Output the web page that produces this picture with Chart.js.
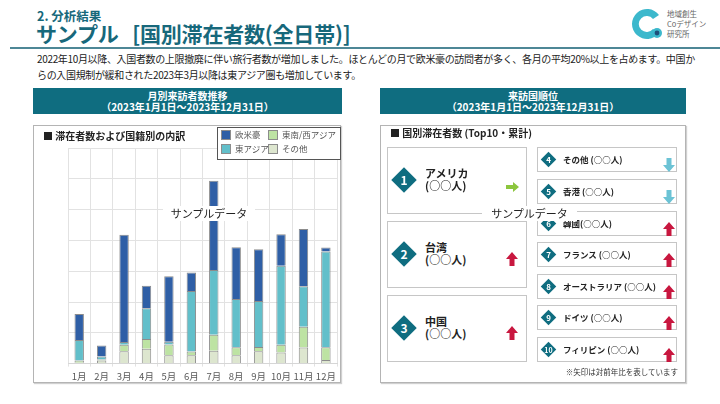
<!DOCTYPE html>
<html lang="ja">
<head>
<meta charset="utf-8">
<script src="https://cdn.jsdelivr.net/npm/chart.js@4.4.1/dist/chart.umd.min.js"></script>
<style>
    * { box-sizing: border-box; }
    body { margin: 0; width: 720px; height: 404px; position: relative; overflow: hidden; background: #fff;
        font-family: "Noto Sans CJK JP", "Noto Sans", sans-serif; color: #222; }
    .abs { position: absolute; }
    .teal { color: #17687b; }
    .hdr { position: absolute; top: 88px; height: 26px; background: #0f6d80; color: #fff; font-weight: bold;
        font-size: 10px; line-height: 11.5px; text-align: center; padding-top: 1.5px; }
    .panel { position: absolute; top: 125px; height: 258px; border: 1px solid #b4b4b4; box-shadow: 1px 1px 1px #d0d0d0; }
    .bigbox { position: absolute; left: 387px; width: 140px; height: 67px; border: 1.5px solid #c6c6c6; background: #fff; }
    .smallbox { position: absolute; left: 537px; width: 140px; height: 25px; border: 1.5px solid #c6c6c6; background: #fff; }
    .dia { position: absolute; background: #0f6d80; transform: rotate(45deg); }
    .num { position: absolute; color: #fff; font-weight: bold; text-align: center; }
    .bigname { position: absolute; left: 425px; font-size: 11px; font-weight: bold; line-height: 12px; color: #222; }
    .smallname { position: absolute; left: 563px; font-size: 8.5px; font-weight: bold; color: #222; white-space: nowrap; }
    .leg { position: absolute; font-size: 8.5px; color: #555; white-space: nowrap; }
    .sw { position: absolute; width: 10px; height: 10px; border: 1px solid #8c8c8c; }
    .wm { position: absolute; background: #fff; font-size: 11px; text-align: center; height: 15px; line-height: 15px; }
</style>
</head>
<body>
<div class="abs teal" style="left:37px;top:6px;font-size:12.5px;font-weight:bold;">2. 分析結果</div>
<div class="abs teal" style="left:36px;top:18px;font-size:21px;font-weight:bold;letter-spacing:-0.2px;white-space:nowrap;">サンプル&nbsp;&nbsp;&nbsp;[国別滞在者数(全日帯)]</div>
<div class="abs" style="left:10px;top:47px;width:710px;height:2px;background:#4d8796;"></div>

<svg class="abs" style="left:629px;top:6px" width="36" height="36" viewBox="0 0 36 36">
    <path d="M30 9 A15 15 0 1 0 30 27 L24 23 A8 8 0 1 1 24 13 Z" fill="#3cb8cc"/>
    <circle cx="14" cy="16" r="1.6" fill="#fff"/>
    <circle cx="19" cy="14" r="1.6" fill="#fff"/>
    <circle cx="28" cy="27" r="5" fill="#3cb8cc"/>
    <circle cx="28" cy="27" r="2.4" fill="#1f4f7a"/>
</svg>
<div class="abs" style="left:667px;top:9px;font-size:7.5px;line-height:10px;color:#666;">地域創生<br>Coデザイン<br>研究所</div>

<div class="abs" style="left:37px;top:51px;font-size:10px;line-height:15.5px;white-space:nowrap;letter-spacing:-0.34px;">2022年10月以降、入国者数の上限撤廃に伴い旅行者数が増加しました。ほとんどの月で欧米豪の訪問者が多く、各月の平均20%以上を占めます。中国か<br>らの入国規制が緩和された2023年3月以降は東アジア圏も増加しています。</div>

<div class="hdr" style="left:33px;width:309px;">月別来訪者数推移<br>（2023年1月1日～2023年12月31日）</div>
<div class="hdr" style="left:380px;width:306px;">来訪国順位<br>（2023年1月1日～2023年12月31日）</div>

<div class="panel" style="left:33px;width:308px;"></div>
<div class="panel" style="left:380px;width:306px;"></div>

<div class="abs" style="left:34px;top:126px;width:306px;height:260px;"><canvas id="visitorChart"></canvas></div>

<div class="abs" style="left:43px;top:128px;font-size:10px;font-weight:bold;">■ 滞在者数および国籍別の内訳</div>
<div class="abs" style="left:217px;top:127px;width:124px;height:33px;border:1px solid #555;background:#fff;"></div>
<div id="legendBox"></div>

<div class="abs" style="left:390px;top:125px;font-size:10px;font-weight:bold;">■ 国別滞在者数 (Top10・累計)</div>
<div id="ranking"></div>
<div class="abs" style="left:540px;top:366px;width:138px;text-align:right;font-size:7.5px;color:#333;">※矢印は対前年比を表しています</div>

<div class="wm" style="left:163px;top:206px;width:92px;">サンプルデータ</div>
<div class="wm" style="left:482px;top:206px;width:95px;">サンプルデータ</div>

<script>
    const months = ['1月', '2月', '3月', '4月', '5月', '6月', '7月', '8月', '9月', '10月', '11月', '12月'];
    const otherVals = [0.3, 1.0, 4.0, 4.8, 2.7, 2.7, 4.2, 2.7, 4.0, 3.6, 5.2, 1.2];
    const seWestAsia = [0.7, 0.3, 2.1, 3.2, 3.5, 1.2, 5.2, 2.6, 1.4, 2.5, 6.8, 4.1];
    const eastAsia = [6.7, 1.0, 0.9, 10.0, 0.9, 19.7, 21.0, 15.7, 14.9, 25.7, 13.1, 31.1];
    const westerns = [8.4, 3.6, 34.8, 7.3, 21.3, 6.0, 29.0, 16.8, 16.8, 10.2, 18.6, 1.3];
    const seriesNames = ['欧米豪', '東南/西アジア', '東アジア', 'その他'];

    const rankNames = ['アメリカ', '台湾', '中国', 'その他 (○○人)', '香港 (○○人)', '韓國(○○人)', 'フランス (○○人)', 'オーストラリア (○○人)', 'ドイツ (○○人)', 'フィリピン (○○人)'];
    const rankTrend = ['flat', 'up', 'up', 'down', 'down', 'up', 'up', 'up', 'up', 'up'];

    const colors = { '欧米豪': '#2f5fa6', '東南/西アジア': '#bde3a3', '東アジア': '#62bfca', 'その他': '#dde6cf' };

    // legend (2 columns, drawn in html)
    const legendPos = [[221, 130], [268, 130], [221, 144], [268, 144]];
    let legendHtml = '';
    seriesNames.forEach((name, i) => {
        const [x, y] = legendPos[i];
        legendHtml += `<div class="sw" style="left:${x}px;top:${y}px;background:${colors[name]}"></div>`;
        legendHtml += `<div class="leg" style="left:${x + 14}px;top:${y - 2}px">${name}</div>`;
    });
    document.getElementById('legendBox').innerHTML = legendHtml;

    function arrowSvg(kind) {
        if (kind === 'up') {
            return '<svg width="12" height="14" viewBox="0 0 12 14"><polygon points="0,7 6,0 12,7 8.5,7 8.5,14 3.5,14 3.5,7" fill="#c8173f"/></svg>';
        }
        if (kind === 'down') {
            return '<svg width="12" height="14" viewBox="0 0 12 14"><polygon points="3.5,0 8.5,0 8.5,7 12,7 6,14 0,7 3.5,7" fill="#6cc3d5"/></svg>';
        }
        return '<svg width="13" height="10" viewBox="0 0 13 10"><polygon points="0,3 7,3 7,0 13,5 7,10 7,7 0,7" fill="#8cc63e"/></svg>';
    }

    // ranking boxes
    const bigTops = [147, 221, 295];
    const smallTops = [147, 179, 211, 242, 274, 305, 337];
    let rankHtml = '';
    rankNames.forEach((name, i) => {
        if (i < 3) {
            const top = bigTops[i];
            const cy = top + 33;
            rankHtml += `<div class="bigbox" style="top:${top}px"></div>`;
            rankHtml += `<div class="dia" style="left:${404 - 9}px;top:${cy - 9}px;width:18px;height:18px"></div>`;
            rankHtml += `<div class="num" style="left:394px;top:${cy - 9}px;width:20px;font-size:12px;line-height:18px">${i + 1}</div>`;
            rankHtml += `<div class="bigname" style="top:${cy - 13}px">${name}<br>(○○人)</div>`;
            rankHtml += `<div class="abs" style="left:506px;top:${cy - 7}px">${arrowSvg(rankTrend[i])}</div>`;
        } else {
            const top = smallTops[i - 3];
            const cy = top + 12.5;
            rankHtml += `<div class="smallbox" style="top:${top}px"></div>`;
            rankHtml += `<div class="dia" style="left:${548.5 - 5.5}px;top:${cy - 5.5}px;width:11px;height:11px"></div>`;
            rankHtml += `<div class="num" style="left:538.5px;top:${cy - 6}px;width:20px;font-size:${i === 9 ? 7 : 8}px;line-height:12px">${i + 1}</div>`;
            rankHtml += `<div class="smallname" style="top:${cy - 7}px">${name}</div>`;
            rankHtml += `<div class="abs" style="left:663px;top:${cy - 7}px">${arrowSvg(rankTrend[i])}</div>`;
        }
    });
    document.getElementById('ranking').innerHTML = rankHtml;

    const ctx = document.getElementById('visitorChart').getContext('2d');
    const barOpts = { borderColor: '#8c8c8c', borderWidth: 1, barPercentage: 0.42, categoryPercentage: 1 };
    new Chart(ctx, {
        type: 'bar',
        data: {
            labels: months,
            datasets: [
                { label: 'その他', data: otherVals, backgroundColor: colors['その他'], ...barOpts },
                { label: '東南/西アジア', data: seWestAsia, backgroundColor: colors['東南/西アジア'], ...barOpts },
                { label: '東アジア', data: eastAsia, backgroundColor: colors['東アジア'], ...barOpts },
                { label: '欧米豪', data: westerns, backgroundColor: colors['欧米豪'], ...barOpts }
            ]
        },
        options: {
            responsive: true,
            maintainAspectRatio: false,
            animation: false,
            layout: { padding: { left: 34, right: 2, top: 22, bottom: 0 } },
            plugins: {
                legend: { display: false },
                tooltip: { enabled: false }
            },
            scales: {
                x: {
                    stacked: true,
                    grid: { color: '#e2e2e2', tickLength: 3 },
                    border: { color: '#d6d6d6' },
                    ticks: { color: '#595959', font: { size: 9.5, family: '"Noto Sans CJK JP"' }, padding: 4, maxRotation: 0, autoSkip: false }
                },
                y: {
                    stacked: true,
                    min: 0,
                    max: 70,
                    grid: { color: '#e2e2e2', drawTicks: false },
                    border: { display: false },
                    ticks: { display: false, stepSize: 10 }
                }
            }
        }
    });
</script>
</body>
</html>
